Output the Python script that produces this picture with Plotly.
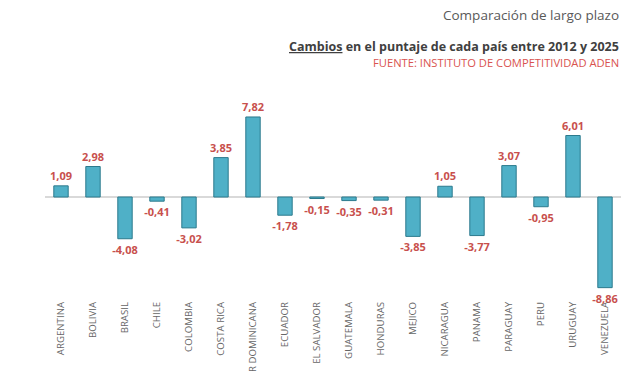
import plotly.graph_objects as go

countries = ["ARGENTINA", "BOLIVIA", "BRASIL", "CHILE", "COLOMBIA", "COSTA RICA",
             "R DOMINICANA", "ECUADOR", "EL SALVADOR", "GUATEMALA", "HONDURAS",
             "MEJICO", "NICARAGUA", "PANAMA", "PARAGUAY", "PERU", "URUGUAY", "VENEZUELA"]
changes = [1.09, 2.98, -4.08, -0.41, -3.02, 3.85, 7.82, -1.78, -0.15, -0.35, -0.31,
           -3.85, 1.05, -3.77, 3.07, -0.95, 6.01, -8.86]

title1 = "Comparación de largo plazo"
title2 = "<u>Cambios</u> en el puntaje de cada país entre 2012 y 2025"
source = "FUENTE: INSTITUTO DE COMPETITIVIDAD ADEN"

fig = go.Figure(go.Bar(
    x=countries, y=changes,
    marker=dict(color="#4fb0c7", line=dict(color="#2c7a8d", width=1)),
    texttemplate="<b>%{y:.2f}</b>", textposition="outside", cliponaxis=False,
    constraintext="none",
    textfont=dict(family="Open Sans", size=11, color="#c8504d"),
    width=0.45,
))

n = len(countries)
fig.update_layout(
    width=640, height=374,
    margin=dict(l=45, r=19, t=100, b=84),
    paper_bgcolor="white", plot_bgcolor="white",
    separators=",.",
    showlegend=False,
    font=dict(family="Open Sans"),
    xaxis=dict(range=[-0.5, n - 0.5], tickangle=-90, showgrid=False, showline=False,
               ticks="", tickfont=dict(size=9.7, color="#666666"), automargin=False,
               ticklabelstandoff=9),
    yaxis=dict(range=[-9.09, 9.48], visible=True, showgrid=False, showticklabels=False,
               zeroline=True, zerolinecolor="#d9d9d9", zerolinewidth=2, ticks="",
               automargin=False),
    annotations=[
        dict(text=title1, xref="paper", yref="paper", x=1.0, y=1.0, yshift=85,
             xanchor="right", yanchor="middle", showarrow=False,
             font=dict(size=13.5, color="#595959")),
        dict(text="<b>" + title2 + "</b>", xref="paper", yref="paper", x=1.0, y=1.0, yshift=54,
             xanchor="right", yanchor="middle", showarrow=False,
             font=dict(size=12.5, color="#404040")),
        dict(text=source, xref="paper", yref="paper", x=1.0, y=1.0, yshift=38,
             xanchor="right", yanchor="middle", showarrow=False,
             font=dict(size=11.2, color="#d9534f")),
    ],
)

fig.write_html("out.html", config={"displayModeBar": False},
               post_script="document.body.style.margin='0';")
